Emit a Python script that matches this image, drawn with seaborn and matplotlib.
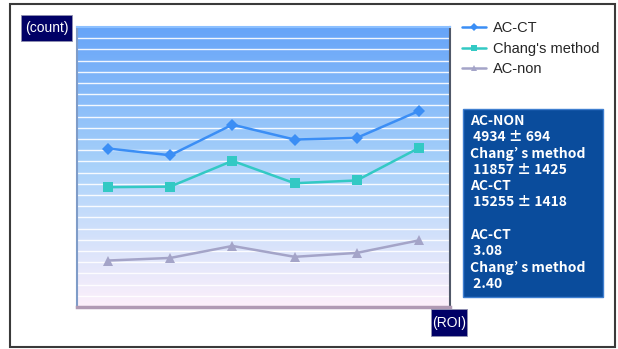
import numpy as np
import pandas as pd
import matplotlib
matplotlib.use("Agg")
import matplotlib.pyplot as plt
from matplotlib.colors import LinearSegmentedColormap
from matplotlib.patches import Rectangle
import seaborn as sns

# data (counts per ROI)
roi = [1, 2, 3, 4, 5, 6]
ac_ct = [14150, 13550, 16280, 14950, 15100, 17500]
chang = [10700, 10750, 13050, 11050, 11300, 14200]
ac_non = [4150, 4380, 5450, 4480, 4830, 5950]
series_names = ["AC-CT", "Chang's method", "AC-non"]
box_lines = ["AC-NON", " 4934 ± 694", "Chang’ s method", " 11857 ± 1425",
             "AC-CT", " 15255 ± 1418", "", "AC-CT", " 3.08",
             "Chang’ s method", " 2.40"]

df = pd.DataFrame({
    "roi": roi * 3,
    "count": ac_ct + chang + ac_non,
    "series": [s for s in series_names for _ in roi],
})

sns.set_style("white")
plt.rcParams['font.family'] = ['Liberation Sans', 'DejaVu Sans']

W, H = 618, 349
fig = plt.figure(figsize=(W / 100, H / 100), dpi=100)

def fx(px):
    return px / W

def fy(py):
    return 1 - py / H

ax = fig.add_axes([fx(77), fy(307), fx(450) - fx(77), fy(27) - fy(307)])

# gradient background (blue on top, pale pink at the bottom)
grad = LinearSegmentedColormap.from_list("bg", ["#66a4f8", "#a9d2fa", "#fdf0fb"])
ax.imshow(np.linspace(0, 1, 256).reshape(-1, 1), cmap=grad, aspect="auto",
          extent=[0.5, 6.5, 0, 25000], origin="upper", zorder=0)
for yv in range(1000, 25000, 1000):
    ax.axhline(yv, color="white", lw=1.0, alpha=0.9, zorder=1)

palette = {"AC-CT": "#3b8ef5", "Chang's method": "#33c9c4", "AC-non": "#a4a4c8"}
markers = {"AC-CT": "D", "Chang's method": "s", "AC-non": "^"}
sns.lineplot(data=df, x="roi", y="count", hue="series", style="series",
             palette=palette, markers=markers, dashes=False, lw=1.8,
             markersize=6.5, markeredgewidth=0, ax=ax, zorder=3, legend=True)

ax.set_xlim(0.5, 6.5)
ax.set_ylim(0, 25000)
ax.set_xticks([])
ax.set_yticks([])
ax.set_xlabel("")
ax.set_ylabel("")
for side, sp in ax.spines.items():
    sp.set_visible(True)
ax.spines["left"].set_color("#7f9cc8")
ax.spines["left"].set_linewidth(1.5)
ax.spines["top"].set_color("#8cc0ff")
ax.spines["top"].set_linewidth(1.5)
ax.spines["right"].set_color("#505868")
ax.spines["right"].set_linewidth(1.5)
ax.spines["bottom"].set_color("#b09ab4")
ax.spines["bottom"].set_linewidth(2.5)

handles, labels = ax.get_legend_handles_labels()
ax.legend(handles, labels, loc="upper left", bbox_to_anchor=(fx(455), fy(14)),
          bbox_transform=fig.transFigure, frameon=False, fontsize=10.5,
          handlelength=1.6, handletextpad=0.5, labelspacing=0.45, borderpad=0,
          markerscale=0.7)

# outer frame
fig.patches.append(Rectangle((fx(10), fy(347)), fx(615) - fx(10), fy(4) - fy(347),
                             transform=fig.transFigure, fill=False,
                             edgecolor="#3a3a3a", lw=1.5, zorder=0))

# axis label boxes
for (x0, y0, x1, y1), txt in [((21, 15, 72, 41), "(count)"), ((431, 309, 467, 336), "(ROI)")]:
    fig.patches.append(Rectangle((fx(x0), fy(y1)), fx(x1) - fx(x0), fy(y0) - fy(y1),
                                 transform=fig.transFigure, facecolor="#000066",
                                 edgecolor="#9090b0", lw=0.6))
    fig.text(fx((x0 + x1) / 2), fy((y0 + y1) / 2), txt, color="white",
             fontsize=10, ha="center", va="center")

# stats box
fig.patches.append(Rectangle((fx(463), fy(297)), fx(603) - fx(463), fy(109) - fy(297),
                             transform=fig.transFigure, facecolor="#0a4c9c",
                             edgecolor="#3f7fd0", lw=1.0))
for i, line in enumerate(box_lines):
    fig.text(fx(470), fy(121 + i * 16.3), line, color="white", fontsize=10,
             fontweight="bold", va="center", ha="left",
             family=["Noto Sans CJK KR", "DejaVu Sans"])

fig.savefig("out.png", dpi=100)
